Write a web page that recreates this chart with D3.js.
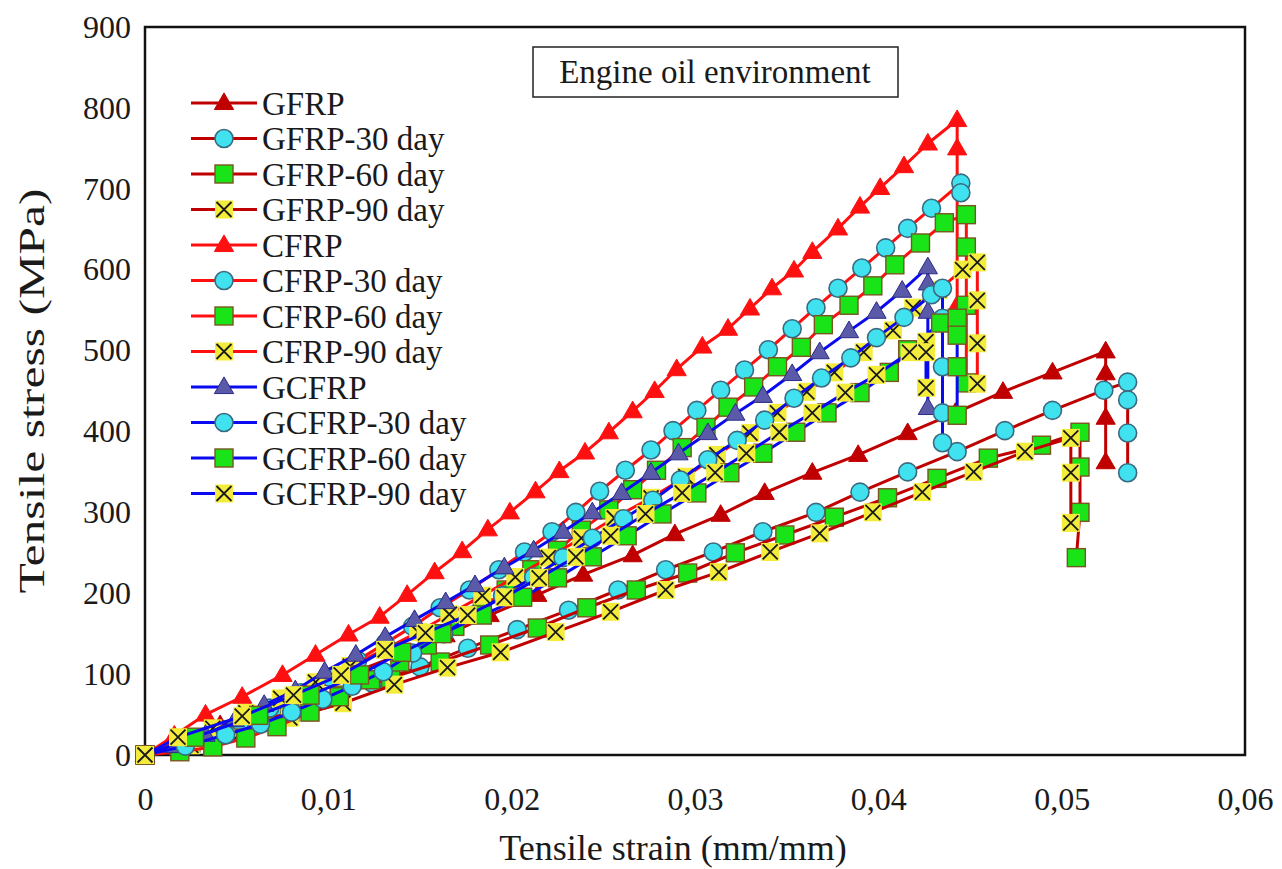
<!DOCTYPE html>
<html>
<head>
<meta charset="utf-8">
<script src="https://cdn.jsdelivr.net/npm/d3@7"></script>
<style>
  body { margin: 0; background: #fff; }
  text { font-family: "Liberation Serif", "Times New Roman", serif; fill: #1a1a1a; }
</style>
</head>
<body>
<div id="chart"></div>
<script>
// series names, legend order
const seriesNames = ["GFRP", "GFRP-30 day", "GFRP-60 day", "GFRP-90 day",
  "CFRP", "CFRP-30 day", "CFRP-60 day", "CFRP-90 day",
  "GCFRP", "GCFRP-30 day", "GCFRP-60 day", "GCFRP-90 day"];

// strain (mm/mm) and stress (MPa)
const gfrpStrain = [0,0.0019,0.0041,0.0065,0.0090,0.0115,0.0139,0.0164,0.0188,0.0214,0.0239,0.0266,0.0289,0.0314,0.0338,0.0364,0.0389,0.0416,0.0442,0.0468,0.0495,0.0524,0.0524,0.0524,0.0524];
const gfrpStress = [0,16,37,58,80,103,124,148,173,198,223,247,273,297,324,349,371,398,423,449,473,499,472,417,362];

const gfrp30Strain = [0,0.0019,0.0044,0.0071,0.0097,0.0124,0.0150,0.0176,0.0203,0.0231,0.0258,0.0284,0.0310,0.0337,0.0366,0.0390,0.0416,0.0443,0.0469,0.0495,0.0523,0.0536,0.0536,0.0536,0.0536];
const gfrp30Stress = [0,12,31,49,68,89,109,132,155,179,204,229,251,276,300,325,350,375,401,426,451,461,439,398,349];

const gfrp60Strain = [0,0.0025,0.0052,0.0079,0.0106,0.0134,0.0161,0.0188,0.0214,0.0241,0.0268,0.0296,0.0322,0.0349,0.0376,0.0405,0.0432,0.0460,0.0489,0.0510,0.0510,0.0510,0.0508];
const gfrp60Stress = [0,15,33,53,74,95,115,136,157,182,204,225,250,272,294,318,342,367,383,399,356,300,244];

const gfrp90Strain = [0,0.0025,0.0052,0.0079,0.0108,0.0136,0.0165,0.0194,0.0224,0.0254,0.0284,0.0313,0.0341,0.0368,0.0397,0.0424,0.0452,0.0480,0.0505,0.0505,0.0505];
const gfrp90Stress = [0,12,27,46,64,87,108,127,152,177,204,226,251,274,300,325,350,375,392,349,287];

const cfrpStrain = [0,0.0016,0.0033,0.0053,0.0075,0.0093,0.0111,0.0128,0.0143,0.0158,0.0173,0.0187,0.0199,0.0213,0.0226,0.0240,0.0253,0.0266,0.0278,0.0290,0.0304,0.0318,0.0330,0.0342,0.0354,0.0364,0.0378,0.0390,0.0401,0.0414,0.0427,0.0443,0.0443,0.0443];
const cfrpStress = [0,24,50,72,99,124,149,171,198,226,252,279,300,326,351,374,399,425,450,477,505,527,552,577,599,622,651,678,701,728,756,785,750,556];

const cfrp30Strain = [0,0.0017,0.0034,0.0052,0.0068,0.0085,0.0101,0.0116,0.0131,0.0146,0.0161,0.0177,0.0193,0.0207,0.0222,0.0235,0.0248,0.0262,0.0276,0.0288,0.0301,0.0314,0.0327,0.0340,0.0353,0.0366,0.0378,0.0391,0.0404,0.0416,0.0429,0.0445,0.0445];
const cfrp30Stress = [0,9,22,41,58,77,96,117,138,159,182,204,229,251,276,300,326,352,377,401,426,451,476,501,527,553,577,602,627,651,676,707,695];

const cfrp60Strain = [0,0.0019,0.0037,0.0055,0.0072,0.0090,0.0106,0.0123,0.0139,0.0154,0.0169,0.0184,0.0197,0.0211,0.0225,0.0238,0.0253,0.0266,0.0279,0.0293,0.0306,0.0318,0.0332,0.0345,0.0358,0.0370,0.0384,0.0397,0.0409,0.0423,0.0436,0.0448,0.0448,0.0448,0.0448];
const cfrp60Stress = [0,4,10,21,35,53,72,93,115,136,159,182,204,229,253,278,303,328,352,380,405,430,455,480,504,532,556,580,606,633,658,668,628,556,460];

const cfrp90Strain = [0,0.0018,0.0037,0.0055,0.0074,0.0093,0.0112,0.0131,0.0149,0.0166,0.0184,0.0202,0.0220,0.0238,0.0256,0.0276,0.0295,0.0312,0.0330,0.0345,0.0361,0.0376,0.0392,0.0408,0.0419,0.0433,0.0446,0.0454,0.0454,0.0454,0.0454];
const cfrp90Stress = [0,16,33,52,70,90,110,131,152,174,197,220,244,268,293,318,344,371,398,423,449,473,498,525,553,575,600,609,562,509,459];

const gcfrpStrain = [0,0.0016,0.0033,0.0049,0.0065,0.0082,0.0098,0.0115,0.0131,0.0147,0.0164,0.0180,0.0196,0.0212,0.0228,0.0244,0.0260,0.0276,0.0291,0.0307,0.0322,0.0337,0.0353,0.0368,0.0384,0.0399,0.0413,0.0427,0.0427,0.0427,0.0427];
const gcfrpStress = [0,11,25,43,62,80,103,124,146,167,189,210,232,253,276,300,324,349,373,398,422,444,471,498,524,548,574,603,583,548,429];

const gcfrp30Strain = [0,0.0022,0.0044,0.0063,0.0080,0.0097,0.0113,0.0130,0.0146,0.0163,0.0179,0.0195,0.0212,0.0228,0.0244,0.0261,0.0277,0.0292,0.0307,0.0323,0.0338,0.0354,0.0369,0.0385,0.0399,0.0414,0.0429,0.0435,0.0435,0.0435,0.0435,0.0435];
const gcfrp30Stress = [0,11,25,38,53,69,85,103,126,150,173,197,220,244,268,292,315,340,365,389,414,441,466,491,516,541,569,577,540,480,423,386];

const gcfrp60Strain = [0,0.0027,0.0062,0.0090,0.0117,0.0140,0.0162,0.0184,0.0206,0.0225,0.0244,0.0263,0.0282,0.0301,0.0319,0.0337,0.0355,0.0372,0.0390,0.0406,0.0416,0.0434,0.0443,0.0443,0.0443,0.0443];
const gcfrp60Stress = [0,22,49,74,99,127,150,173,195,219,245,271,298,324,349,373,399,423,448,473,501,534,540,519,480,420];

const gcfrp90Strain = [0,0.0018,0.0053,0.0081,0.0107,0.0131,0.0153,0.0176,0.0196,0.0215,0.0235,0.0254,0.0273,0.0293,0.0311,0.0328,0.0346,0.0364,0.0382,0.0399,0.0417,0.0426,0.0426,0.0426];
const gcfrp90Stress = [0,22,48,74,99,130,151,173,195,219,245,271,298,324,349,373,399,423,448,470,498,511,498,454];

const xTickValues = [0, 0.01, 0.02, 0.03, 0.04, 0.05, 0.06];
const xTickLabels = ["0", "0,01", "0,02", "0,03", "0,04", "0,05", "0,06"];
const yTickValues = [0, 100, 200, 300, 400, 500, 600, 700, 800, 900];

// styles
const darkRed = "#c00000", red = "#ff1010", blue = "#0a0af0";
const lineColors = [darkRed, darkRed, darkRed, darkRed, red, red, red, red, blue, blue, blue, blue];
const markerKinds = ["tri", "circle", "square", "cross", "tri", "circle", "square", "cross", "tri", "circle", "square", "cross"];
const triFills = { 0: "#c00000", 4: "#ff1010", 8: "#5a5aa8" };
const strainSets = [gfrpStrain, gfrp30Strain, gfrp60Strain, gfrp90Strain, cfrpStrain, cfrp30Strain, cfrp60Strain, cfrp90Strain, gcfrpStrain, gcfrp30Strain, gcfrp60Strain, gcfrp90Strain];
const stressSets = [gfrpStress, gfrp30Stress, gfrp60Stress, gfrp90Stress, cfrpStress, cfrp30Stress, cfrp60Stress, cfrp90Stress, gcfrpStress, gcfrp30Stress, gcfrp60Stress, gcfrp90Stress];

const series = seriesNames.map((name, i) => ({
  name,
  index: i,
  color: lineColors[i],
  kind: markerKinds[i],
  points: strainSets[i].map((s, j) => ({ strain: s, stress: stressSets[i][j] }))
}));

const width = 1282, height = 869;

const svg = d3.select("#chart").append("svg")
  .attr("width", width)
  .attr("height", height);

const x = d3.scaleLinear().domain([0, 0.06]).range([145, 1245]);
const y = d3.scaleLinear().domain([0, 900]).range([755, 27]);

// draws one marker at 0,0 inside g
function drawMarker(g, d) {
  if (d.kind === "tri") {
    g.append("path")
      .attr("d", d3.symbol(d3.symbolTriangle, 160)())
      .attr("transform", "translate(0,1)")
      .attr("fill", triFills[d.index])
      .attr("stroke", d.index === 8 ? "#2a2a8a" : triFills[d.index])
      .attr("stroke-width", 1);
  } else if (d.kind === "circle") {
    g.append("circle")
      .attr("r", 9)
      .attr("fill", "#40e2f0")
      .attr("stroke", "#3a6a80")
      .attr("stroke-width", 1.6);
  } else if (d.kind === "square") {
    g.append("rect")
      .attr("x", -9).attr("y", -9)
      .attr("width", 18).attr("height", 18)
      .attr("fill", "#18e418")
      .attr("stroke", "#7a5520")
      .attr("stroke-width", 1.4);
  } else {
    g.append("rect")
      .attr("x", -9).attr("y", -9)
      .attr("width", 18).attr("height", 18)
      .attr("fill", "#f3ec3a");
    g.append("path")
      .attr("d", "M-7.5,-7.5L7.5,7.5M-7.5,7.5L7.5,-7.5")
      .attr("stroke", "#1a1a1a")
      .attr("stroke-width", 1.8);
  }
}

const line = d3.line()
  .x(d => x(d.strain))
  .y(d => y(d.stress));

// plot frame
svg.append("rect")
  .attr("x", x(0)).attr("y", y(900))
  .attr("width", x(0.06) - x(0))
  .attr("height", y(0) - y(900))
  .attr("fill", "none")
  .attr("stroke", "#111")
  .attr("stroke-width", 2.5);

// curves
series.forEach(s => {
  const g = svg.append("g").attr("class", "series");
  g.append("path")
    .datum(s.points)
    .attr("d", line)
    .attr("fill", "none")
    .attr("stroke", s.color)
    .attr("stroke-width", 3)
    .attr("stroke-linejoin", "round");

  g.selectAll(".pt")
    .data(s.points)
    .enter()
    .append("g")
    .attr("class", "pt")
    .attr("transform", d => `translate(${x(d.strain)},${y(d.stress)})`)
    .each(function() { drawMarker(d3.select(this), s); });
});

// axes
const xAxis = svg.append("g")
  .attr("transform", `translate(0,${y(0)})`)
  .call(d3.axisBottom(x).tickValues(xTickValues)
    .tickFormat((d, i) => xTickLabels[i]).tickSize(0).tickPadding(32));
xAxis.select(".domain").remove();
xAxis.selectAll("text")
  .attr("font-size", 32)
  .attr("font-family", "Liberation Serif, serif")
  .attr("fill", "#1a1a1a");

const yAxis = svg.append("g")
  .attr("transform", `translate(${x(0)},0)`)
  .call(d3.axisLeft(y).tickValues(yTickValues).tickSize(0).tickPadding(14));
yAxis.select(".domain").remove();
yAxis.selectAll("text")
  .attr("font-size", 32)
  .attr("font-family", "Liberation Serif, serif")
  .attr("fill", "#1a1a1a");

// axis titles
svg.append("text")
  .attr("x", 673).attr("y", 860)
  .attr("text-anchor", "middle")
  .attr("font-size", 36)
  .text("Tensile strain (mm/mm)");

svg.append("text")
  .attr("transform", "translate(44,391) rotate(-90)")
  .attr("text-anchor", "middle")
  .attr("font-size", 36)
  .attr("textLength", 405)
  .attr("lengthAdjust", "spacingAndGlyphs")
  .text("Tensile stress (MPa)");

// environment box
svg.append("rect")
  .attr("x", 533).attr("y", 47)
  .attr("width", 365).attr("height", 50)
  .attr("fill", "#fff")
  .attr("stroke", "#222")
  .attr("stroke-width", 1.5);
svg.append("text")
  .attr("x", 715).attr("y", 83)
  .attr("text-anchor", "middle")
  .attr("font-size", 33)
  .text("Engine oil environment");

// legend
const legend = svg.append("g").attr("class", "legend");
series.forEach((s, i) => {
  const ly = 103 + i * 35.5;
  const row = legend.append("g").attr("transform", `translate(0,${ly})`);
  row.append("line")
    .attr("x1", 191).attr("x2", 257)
    .attr("y1", 0).attr("y2", 0)
    .attr("stroke", s.color)
    .attr("stroke-width", 3);
  const m = row.append("g").attr("transform", "translate(224,0)");
  drawMarker(m, s);
  row.append("text")
    .attr("x", 262).attr("y", 0)
    .attr("dy", "0.35em")
    .attr("font-size", 33)
    .text(s.name);
});
</script>
</body>
</html>
